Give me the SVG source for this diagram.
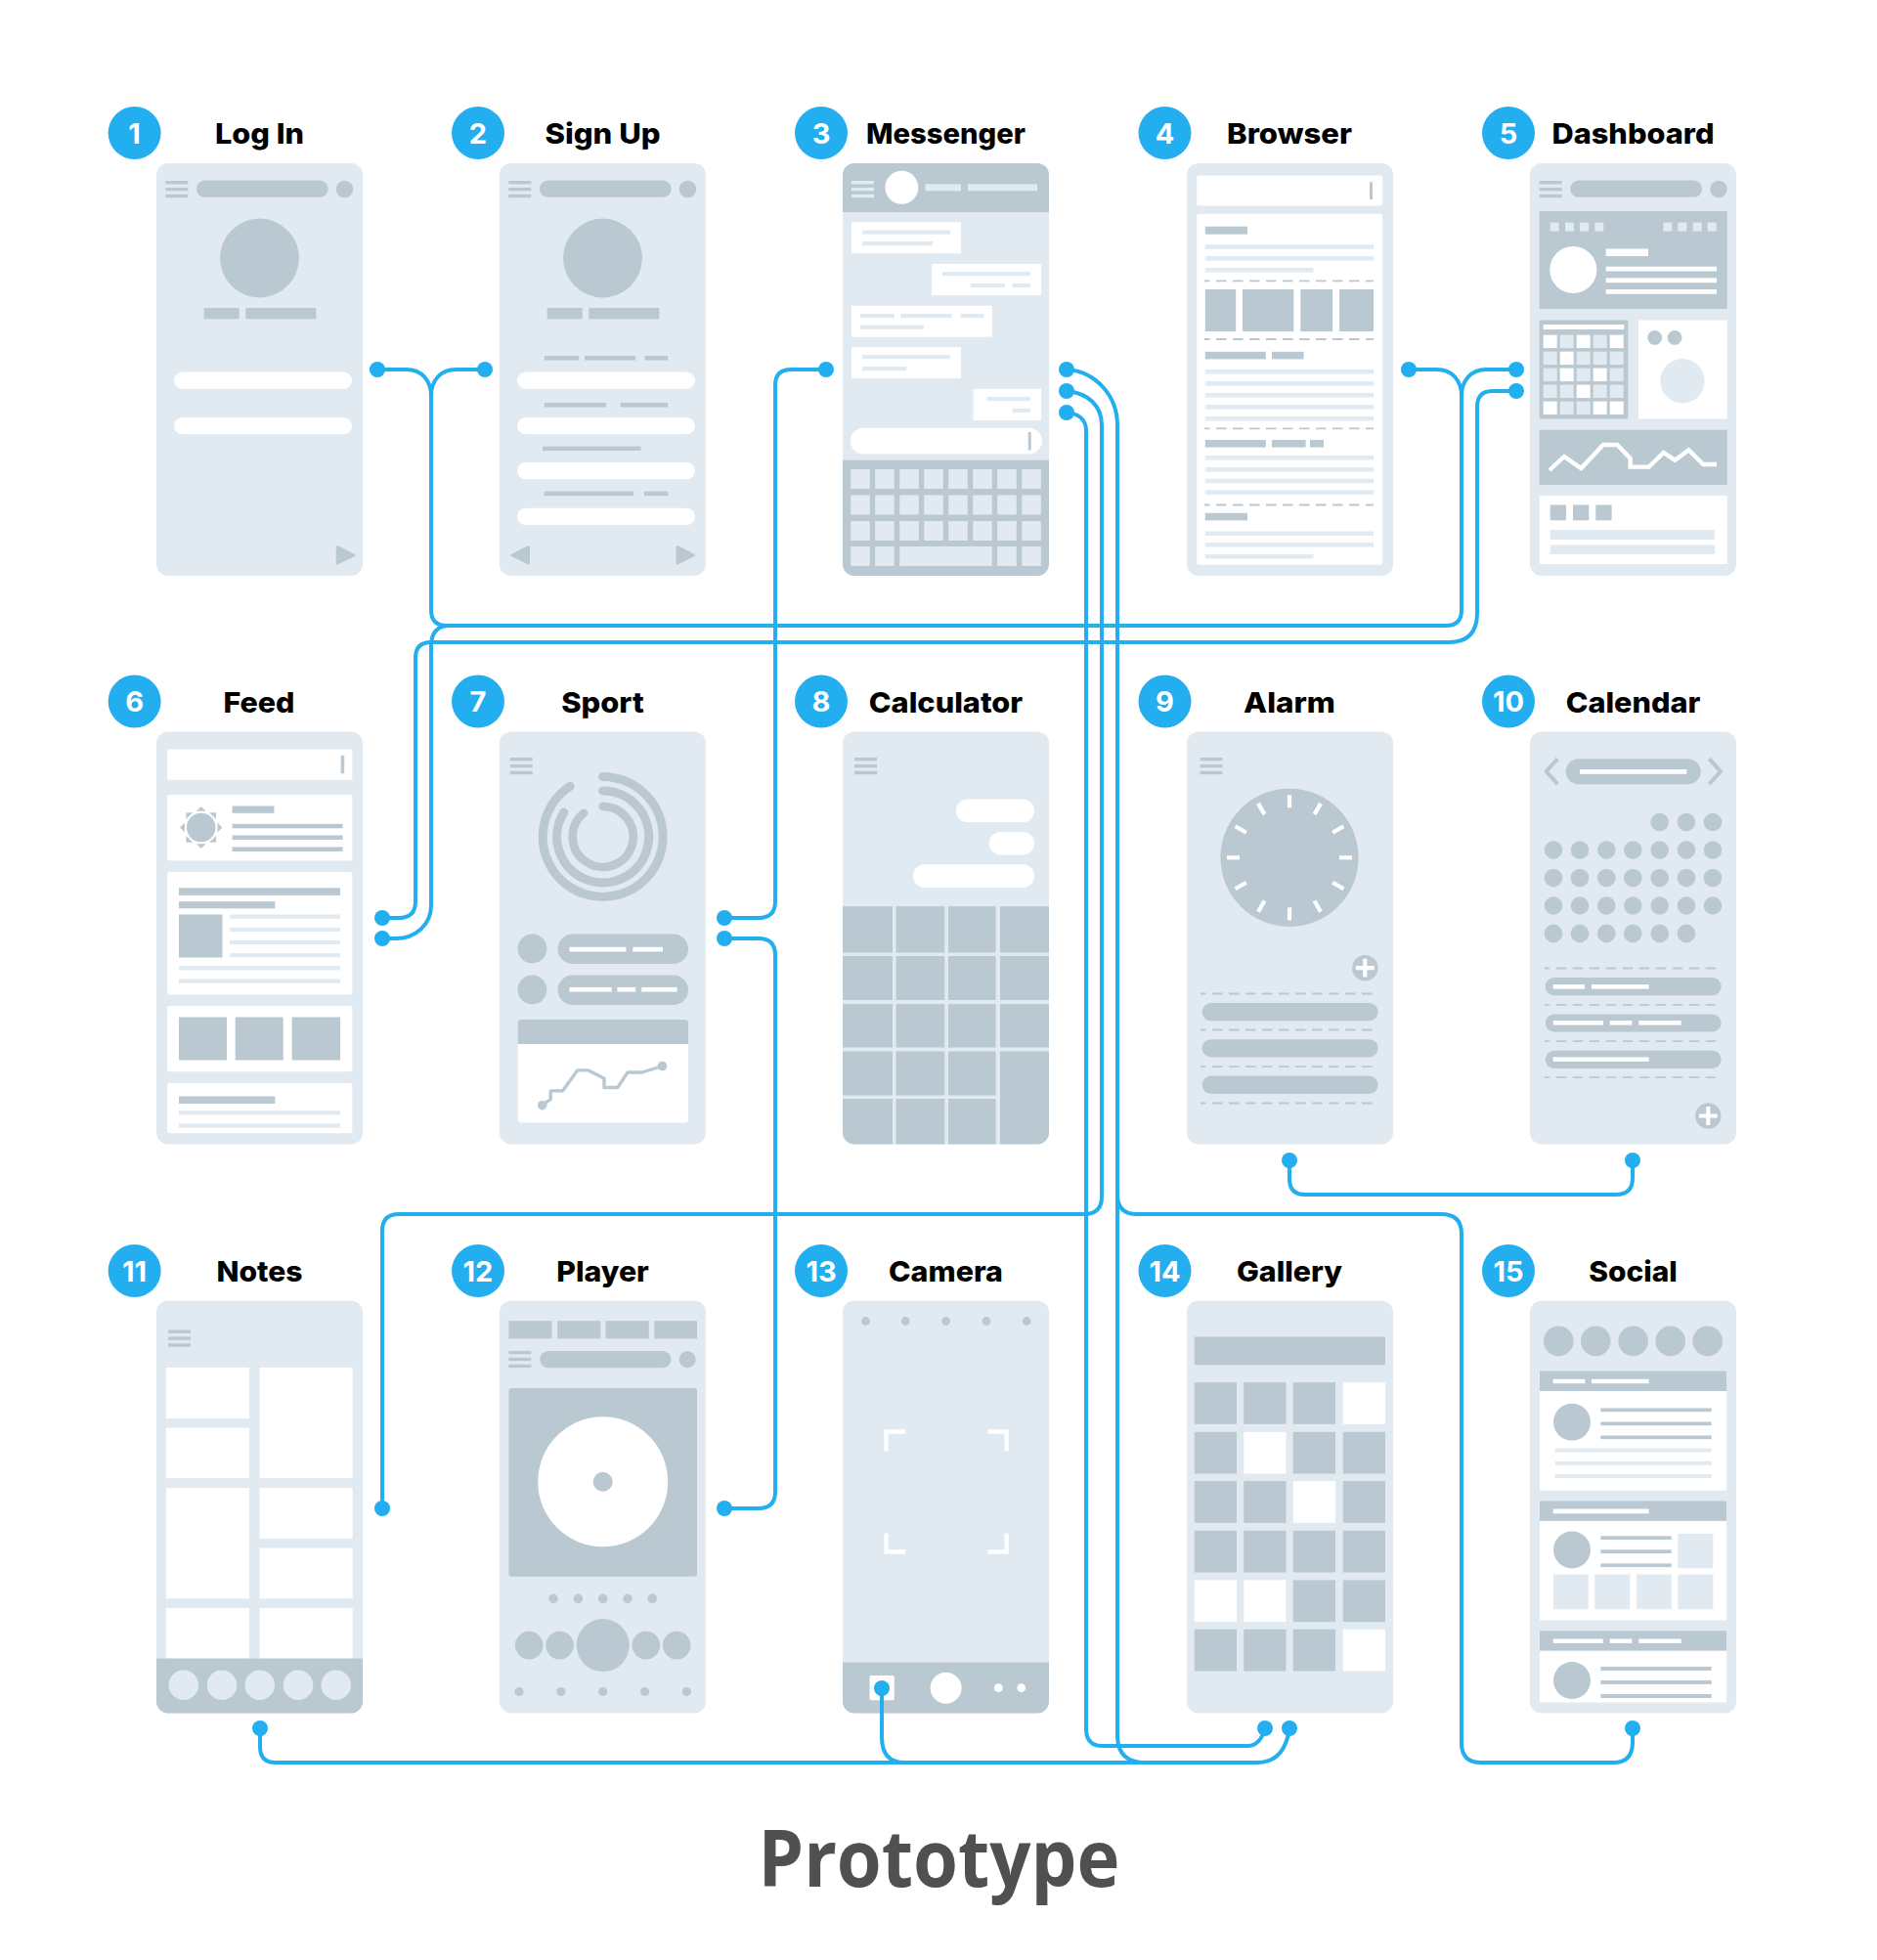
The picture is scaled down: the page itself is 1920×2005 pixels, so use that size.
<svg xmlns="http://www.w3.org/2000/svg" width="1920" height="2005" viewBox="0 0 1920 2005">
<style>
.bg{fill:#fff}
.c{fill:#E1E9F1}
.g{fill:#BAC8D2}
.w{fill:#fff}
.b{fill:#22AEEF}
.n{fill:#fff;font-family:"Inter","Liberation Sans",sans-serif;font-weight:700;font-size:29px;text-anchor:middle}
.t{fill:#000;font-family:"Inter","Liberation Sans",sans-serif;font-weight:800;font-size:29px;text-anchor:middle}
.d{stroke:#BAC8D2;stroke-width:1.8;stroke-dasharray:10.5 6.5;stroke-dashoffset:5;fill:none}
.ln{fill:none;stroke:#BAC8D2;stroke-linejoin:round}
.tri{fill:#BAC8D2;stroke:#BAC8D2;stroke-width:3;stroke-linejoin:round}
.cn{fill:none;stroke:#22AEEF;stroke-width:4}
.pl{fill:none;stroke:#fff;stroke-width:4.4}
.title{fill:#505050;font-family:"Open Sans","Noto Sans",sans-serif;font-weight:700;font-size:80px;text-anchor:middle}
</style>
<defs>
<g id="ham"><rect width="23" height="3.4"/><rect y="6.9" width="23" height="3.4"/><rect y="13.8" width="23" height="3.4"/></g>
<g id="plus"><circle class="g" r="13.2"/><path d="M-9.4 0H9.4M0-9.4V9.4" fill="none" stroke="#fff" stroke-width="4.2"/></g>
<rect id="card" class="c" width="211" height="422" rx="12"/>
</defs>
<rect class="bg" width="1920" height="2005"/>

<g id="node-1">
<circle class="b" cx="137.6" cy="136" r="27"/><text class="n" x="137.6" y="146.5">1</text>
<text class="t" x="265.5" y="147" textLength="91" lengthAdjust="spacingAndGlyphs">Log In</text>
<g transform="translate(160,167)">
<use href="#card"/>
<use href="#ham" class="g" x="9.3" y="18"/>
<rect class="g" x="41" y="17.6" width="134.7" height="17.2" rx="8.6"/>
<circle class="g" cx="192.5" cy="26.5" r="8.7"/>
<circle class="g" cx="105.5" cy="97" r="40.4"/>
<rect class="g" x="48.6" y="148" width="36" height="11.3"/><rect class="g" x="91.4" y="148" width="72" height="11.3"/>
<rect class="w" x="18" y="213.5" width="182" height="17.2" rx="8.6"/>
<rect class="w" x="18" y="260" width="182" height="17.2" rx="8.6"/>
<polygon class="tri" points="185.2,392.5 201.8,401 185.2,409"/>
</g></g>

<g id="node-2">
<circle class="b" cx="489" cy="136" r="27"/><text class="n" x="489" y="146.5">2</text>
<text class="t" x="616.5" y="147" textLength="118" lengthAdjust="spacingAndGlyphs">Sign Up</text>
<g transform="translate(511,167)">
<use href="#card"/>
<use href="#ham" class="g" x="9.3" y="18"/>
<rect class="g" x="41" y="17.6" width="134.7" height="17.2" rx="8.6"/>
<circle class="g" cx="192.5" cy="26.5" r="8.7"/>
<circle class="g" cx="105.5" cy="97" r="40.4"/>
<rect class="g" x="48.6" y="148" width="36" height="11.3"/><rect class="g" x="91.4" y="148" width="72" height="11.3"/>
<rect class="g" x="45.7" y="197" width="35.5" height="4.5"/><rect class="g" x="87" y="197" width="52.2" height="4.5"/><rect class="g" x="148.6" y="197" width="23.6" height="4.5"/>
<rect class="w" x="18" y="213.5" width="182" height="17.2" rx="8.6"/>
<rect class="g" x="45.7" y="245" width="63.3" height="4.5"/><rect class="g" x="123.7" y="245" width="48.5" height="4.5"/>
<rect class="w" x="18" y="260" width="182" height="17.2" rx="8.6"/>
<rect class="g" x="44" y="289.6" width="100.5" height="4.5"/>
<rect class="w" x="18" y="306" width="182" height="17.2" rx="8.6"/>
<rect class="g" x="45.7" y="335.7" width="91.3" height="4.5"/><rect class="g" x="148" y="335.7" width="24.2" height="4.5"/>
<rect class="w" x="18" y="352.7" width="182" height="17.2" rx="8.6"/>
<polygon class="tri" points="29.5,392.5 13,401 29.5,409"/>
<polygon class="tri" points="182,392.5 198.5,401 182,409"/>
</g></g>

<g id="node-3">
<circle class="b" cx="840" cy="136" r="27"/><text class="n" x="840" y="146.5">3</text>
<text class="t" x="967.5" y="147" textLength="163" lengthAdjust="spacingAndGlyphs">Messenger</text>
<g transform="translate(862,167)">
<use href="#card"/>
<path class="g" d="M0 50V12A12 12 0 0 1 12 0H199A12 12 0 0 1 211 12V50Z"/>
<use href="#ham" class="c" x="9" y="18"/>
<circle class="w" cx="60.4" cy="24.8" r="17"/>
<rect class="c" x="84.5" y="21.3" width="36.5" height="7"/><rect class="c" x="128" y="21.3" width="71" height="7"/>
<rect class="w" x="9" y="60.3" width="112" height="32"/>
<rect class="c" x="20" y="68.5" width="90" height="4.2"/><rect class="c" x="20" y="80" width="72" height="4.2"/>
<rect class="w" x="91" y="103" width="112" height="32"/>
<rect class="c" x="102" y="111" width="90" height="4.2"/><rect class="c" x="130.6" y="123" width="35.4" height="4.2"/><rect class="c" x="173.5" y="123" width="18.5" height="4.2"/>
<rect class="w" x="9" y="145.7" width="144" height="32"/>
<rect class="c" x="18" y="154" width="35" height="4.2"/><rect class="c" x="59" y="154" width="52.4" height="4.2"/><rect class="c" x="120.8" y="154" width="23.7" height="4.2"/><rect class="c" x="18" y="165.6" width="65" height="4.2"/>
<rect class="w" x="9" y="188" width="112" height="32"/>
<rect class="c" x="20" y="196" width="90" height="4.2"/><rect class="c" x="20" y="208" width="45.3" height="4.2"/>
<rect class="w" x="133.5" y="230.7" width="69.5" height="32.3"/>
<rect class="c" x="147.3" y="239" width="44.7" height="4.2"/><rect class="c" x="173.5" y="250.7" width="18.5" height="4.2"/>
<rect class="w" x="7.8" y="270.7" width="196.2" height="26.8" rx="13.4"/>
<rect class="g" x="189.8" y="275" width="2.9" height="18.5"/>
<path class="g" d="M0 303.7H211V410A12 12 0 0 1 199 422H12A12 12 0 0 1 0 410Z"/>
<g class="c">
<rect x="8.2" y="313" width="19.6" height="20"/><rect x="33.2" y="313" width="19.6" height="20"/><rect x="58.2" y="313" width="19.6" height="20"/><rect x="83.2" y="313" width="19.6" height="20"/><rect x="108.2" y="313" width="19.6" height="20"/><rect x="133.2" y="313" width="19.6" height="20"/><rect x="158.2" y="313" width="19.6" height="20"/><rect x="183.2" y="313" width="19.6" height="20"/>
<rect x="8.2" y="339.5" width="19.6" height="20"/><rect x="33.2" y="339.5" width="19.6" height="20"/><rect x="58.2" y="339.5" width="19.6" height="20"/><rect x="83.2" y="339.5" width="19.6" height="20"/><rect x="108.2" y="339.5" width="19.6" height="20"/><rect x="133.2" y="339.5" width="19.6" height="20"/><rect x="158.2" y="339.5" width="19.6" height="20"/><rect x="183.2" y="339.5" width="19.6" height="20"/>
<rect x="8.2" y="366" width="19.6" height="20"/><rect x="33.2" y="366" width="19.6" height="20"/><rect x="58.2" y="366" width="19.6" height="20"/><rect x="83.2" y="366" width="19.6" height="20"/><rect x="108.2" y="366" width="19.6" height="20"/><rect x="133.2" y="366" width="19.6" height="20"/><rect x="158.2" y="366" width="19.6" height="20"/><rect x="183.2" y="366" width="19.6" height="20"/>
<rect x="8.2" y="392" width="19.6" height="20"/><rect x="33.2" y="392" width="19.6" height="20"/><rect x="58.2" y="392" width="94.6" height="20"/><rect x="158.2" y="392" width="19.6" height="20"/><rect x="183.2" y="392" width="19.6" height="20"/>
</g>
</g></g>

<g id="node-4">
<circle class="b" cx="1191.5" cy="136" r="27"/><text class="n" x="1191.5" y="146.5">4</text>
<text class="t" x="1319" y="147" textLength="128" lengthAdjust="spacingAndGlyphs">Browser</text>
<g transform="translate(1214,167)">
<use href="#card"/>
<rect class="w" x="10.2" y="12.4" width="189.8" height="31" rx="2"/>
<rect class="g" x="187" y="19.3" width="3" height="17.7"/>
<rect class="w" x="10.2" y="51.7" width="189.8" height="359" rx="2"/>
<rect class="g" x="18.8" y="64.7" width="43.2" height="8"/>
<g class="c">
<rect x="18.8" y="83.3" width="172.2" height="4.5"/><rect x="18.8" y="95" width="172.2" height="4.5"/><rect x="18.8" y="107" width="110.6" height="4.5"/>
<rect x="18.8" y="211" width="172.2" height="4.5"/><rect x="18.8" y="223" width="172.2" height="4.5"/><rect x="18.8" y="235" width="172.2" height="4.5"/><rect x="18.8" y="247" width="172.2" height="4.5"/><rect x="18.8" y="259" width="172.2" height="4.5"/>
<rect x="18.8" y="299" width="172.2" height="4.5"/><rect x="18.8" y="311" width="172.2" height="4.5"/><rect x="18.8" y="322.7" width="172.2" height="4.5"/><rect x="18.8" y="334.4" width="172.2" height="4.5"/>
<rect x="18.8" y="376.5" width="172.2" height="4.5"/><rect x="18.8" y="388" width="172.2" height="4.5"/><rect x="18.8" y="400" width="110.6" height="4.5"/>
</g>
<path class="d" d="M18 120.3H191M18 180H191M18 271.3H191M18 349.5H191"/>
<rect class="g" x="18.8" y="129" width="31.4" height="43"/><rect class="g" x="57" y="129" width="52.4" height="43"/><rect class="g" x="116.3" y="129" width="32.7" height="43"/><rect class="g" x="156" y="129" width="35" height="43"/>
<rect class="g" x="18.8" y="192.8" width="62" height="7.6"/><rect class="g" x="87" y="192.8" width="32.6" height="7.6"/>
<rect class="g" x="18.8" y="283" width="62" height="7.6"/><rect class="g" x="87" y="283" width="34.6" height="7.6"/><rect class="g" x="126" y="283" width="14" height="7.6"/>
<rect class="g" x="18.8" y="357.8" width="43.2" height="7.6"/>
</g></g>

<g id="node-5">
<circle class="b" cx="1543" cy="136" r="27"/><text class="n" x="1543" y="146.5">5</text>
<text class="t" x="1670.5" y="147" textLength="166" lengthAdjust="spacingAndGlyphs">Dashboard</text>
<g transform="translate(1565,167)">
<use href="#card"/>
<use href="#ham" class="g" x="9.7" y="18"/>
<rect class="g" x="41.3" y="17.6" width="134.7" height="17.2" rx="8.6"/>
<circle class="g" cx="193" cy="26.5" r="8.7"/>
<rect class="g" x="9.7" y="49" width="192" height="100"/>
<g class="c">
<rect x="20.7" y="60.6" width="9" height="9"/><rect x="36" y="60.6" width="9" height="9"/><rect x="51" y="60.6" width="9" height="9"/><rect x="66.3" y="60.6" width="9" height="9"/>
<rect x="136.3" y="60.6" width="9" height="9"/><rect x="151.3" y="60.6" width="9" height="9"/><rect x="166.7" y="60.6" width="9" height="9"/><rect x="181.7" y="60.6" width="9" height="9"/>
</g>
<circle class="w" cx="44.3" cy="109" r="24"/>
<rect class="w" x="77.7" y="87.5" width="43.3" height="7.5"/><rect class="w" x="77.7" y="105.7" width="113.3" height="4.8"/><rect class="w" x="77.7" y="117.4" width="113.3" height="4.8"/><rect class="w" x="77.7" y="129" width="113.3" height="4.8"/>
<rect class="g" x="9.7" y="160.5" width="90.6" height="101"/>
<rect class="w" x="13.7" y="165" width="82.6" height="5"/>
<g class="w">
<rect x="13.7" y="175.6" width="14" height="13.5"/><rect x="47.7" y="175.6" width="14" height="13.5"/><rect x="81.7" y="175.6" width="14" height="13.5"/>
<rect x="30.7" y="192.6" width="14" height="13.5"/>
<rect x="30.7" y="209.6" width="14" height="13.5"/><rect x="64.7" y="209.6" width="14" height="13.5"/>
<rect x="47.7" y="226.6" width="14" height="13.5"/>
<rect x="13.7" y="243.6" width="14" height="13.5"/><rect x="64.7" y="243.6" width="14" height="13.5"/><rect x="81.7" y="243.6" width="14" height="13.5"/>
</g>
<g class="c">
<rect x="30.7" y="175.6" width="14" height="13.5"/><rect x="64.7" y="175.6" width="14" height="13.5"/>
<rect x="13.7" y="192.6" width="14" height="13.5"/><rect x="47.7" y="192.6" width="14" height="13.5"/><rect x="64.7" y="192.6" width="14" height="13.5"/><rect x="81.7" y="192.6" width="14" height="13.5"/>
<rect x="13.7" y="209.6" width="14" height="13.5"/><rect x="47.7" y="209.6" width="14" height="13.5"/><rect x="81.7" y="209.6" width="14" height="13.5"/>
<rect x="13.7" y="226.6" width="14" height="13.5"/><rect x="30.7" y="226.6" width="14" height="13.5"/><rect x="64.7" y="226.6" width="14" height="13.5"/><rect x="81.7" y="226.6" width="14" height="13.5"/>
<rect x="30.7" y="243.6" width="14" height="13.5"/><rect x="47.7" y="243.6" width="14" height="13.5"/>
</g>
<rect class="w" x="111" y="160.5" width="90.7" height="101"/>
<circle class="g" cx="127.7" cy="178.4" r="7.4"/><circle class="g" cx="148" cy="178.4" r="7.4"/>
<circle class="c" cx="156" cy="222.8" r="22.7"/>
<rect class="g" x="9.7" y="272.7" width="192" height="56.3"/>
<polyline class="pl" points="20,314 35,300 52.3,312 75,288 89.3,288 102.7,302 102.7,310.6 121.7,310.6 136.7,296 148.3,303.7 162.3,293.4 177.3,308 191,308"/>
<rect class="w" x="9.7" y="340" width="192" height="70"/>
<rect class="g" x="20.7" y="349.5" width="16.3" height="15.8"/><rect class="g" x="44" y="349.5" width="16.3" height="15.8"/><rect class="g" x="67.3" y="349.5" width="16.3" height="15.8"/>
<rect class="c" x="20.7" y="375" width="168.3" height="10"/><rect class="c" x="20.7" y="390.5" width="168.3" height="9.5"/>
</g></g>

<g id="node-6">
<circle class="b" cx="137.6" cy="717.5" r="27"/><text class="n" x="137.6" y="728">6</text>
<text class="t" x="265" y="729" textLength="73" lengthAdjust="spacingAndGlyphs">Feed</text>
<g transform="translate(160,748.5)">
<use href="#card"/>
<rect class="w" x="11" y="18" width="189.4" height="31.2" rx="2"/>
<rect class="g" x="188.6" y="24.4" width="3.6" height="18.3"/>
<rect class="w" x="11" y="64.4" width="189.4" height="67.6" rx="3"/>
<g class="g" transform="translate(45.7,98)">
<circle r="14.8"/>
<polygon points="0,-21.6 -4.9,-16.8 4.9,-16.8"/><polygon points="0,-21.6 -4.9,-16.8 4.9,-16.8" transform="rotate(45)"/><polygon points="0,-21.6 -4.9,-16.8 4.9,-16.8" transform="rotate(90)"/><polygon points="0,-21.6 -4.9,-16.8 4.9,-16.8" transform="rotate(135)"/><polygon points="0,-21.6 -4.9,-16.8 4.9,-16.8" transform="rotate(180)"/><polygon points="0,-21.6 -4.9,-16.8 4.9,-16.8" transform="rotate(225)"/><polygon points="0,-21.6 -4.9,-16.8 4.9,-16.8" transform="rotate(270)"/><polygon points="0,-21.6 -4.9,-16.8 4.9,-16.8" transform="rotate(315)"/>
</g>
<rect class="g" x="77.6" y="76" width="42.8" height="7.3"/>
<rect class="g" x="77.6" y="94.3" width="113" height="4.5"/><rect class="g" x="77.6" y="106" width="113" height="4.5"/><rect class="g" x="77.6" y="118" width="113" height="4.5"/>
<rect class="w" x="11" y="143.6" width="189.4" height="125.4" rx="3"/>
<rect class="g" x="23" y="159.8" width="165" height="7.6"/><rect class="g" x="23" y="173.6" width="98.3" height="7.2"/>
<rect class="g" x="23" y="187" width="44.5" height="44"/>
<g class="c">
<rect x="75" y="187" width="113" height="4.2"/><rect x="75" y="200.4" width="113" height="4.2"/><rect x="75" y="213.5" width="113" height="4.2"/><rect x="75" y="226.6" width="113" height="4.2"/>
<rect x="23" y="239.7" width="165" height="4.2"/><rect x="23" y="253" width="165" height="4.2"/>
</g>
<rect class="w" x="11" y="280.6" width="189.4" height="67.2" rx="3"/>
<rect class="g" x="23" y="292" width="49" height="44"/><rect class="g" x="80.7" y="292" width="49" height="44"/><rect class="g" x="138.7" y="292" width="49.4" height="44"/>
<rect class="w" x="11" y="359.5" width="189.4" height="51.3" rx="3"/>
<rect class="g" x="23" y="373" width="98.3" height="7.5"/>
<rect class="c" x="23" y="387.7" width="165" height="4.2"/><rect class="c" x="23" y="400.8" width="165" height="4.2"/>
</g></g>

<g id="node-7">
<circle class="b" cx="489" cy="717.5" r="27"/><text class="n" x="489" y="728">7</text>
<text class="t" x="616.5" y="729" textLength="84.5" lengthAdjust="spacingAndGlyphs">Sport</text>
<g transform="translate(511,748.5)">
<use href="#card"/>
<use href="#ham" class="g" x="10.7" y="26.5"/>
<g fill="none" stroke="#BAC8D2" stroke-linecap="round">
<path stroke-width="9" d="M105.7 45.9A61.5 61.5 0 1 1 72.2 55.8"/>
<path stroke-width="9" d="M105.7 60.4A47 47 0 1 1 65.8 82.5"/>
<path stroke-width="8.5" d="M105.7 76.4A31 31 0 1 1 86.2 83.3"/>
</g>
<circle class="g" cx="33.4" cy="222" r="15"/><circle class="g" cx="33.4" cy="264" r="15"/>
<rect class="g" x="59.6" y="207" width="133.4" height="30.6" rx="15.3"/><rect class="g" x="59.6" y="249" width="133.4" height="30.6" rx="15.3"/>
<rect class="w" x="71.4" y="220.3" width="58" height="4.7"/><rect class="w" x="136.3" y="220.3" width="30.7" height="4.7"/>
<rect class="w" x="71.4" y="261.4" width="43.3" height="4.7"/><rect class="w" x="120.4" y="261.4" width="18.8" height="4.7"/><rect class="w" x="145.3" y="261.4" width="36.3" height="4.7"/>
<path class="g" d="M18.8 319.6V298A3.6 3.6 0 0 1 22.4 294.4H189.4A3.6 3.6 0 0 1 193 298V319.6Z"/>
<path class="w" d="M18.8 319.6H193V396.4A3.6 3.6 0 0 1 189.4 400H22.4A3.6 3.6 0 0 1 18.8 396.4Z"/>
<polyline class="ln" stroke-width="3.4" points="43.7,382.2 52.2,376 52.2,367.4 64.5,367.4 79.6,346.4 91,346.4 107,354.7 107,364 120.8,364 131,348.5 145.7,348.5 166.5,342"/>
<circle class="g" cx="43.7" cy="382.2" r="4.8"/><circle class="g" cx="166.5" cy="342" r="4.8"/>
</g></g>

<g id="node-8">
<circle class="b" cx="840" cy="717.5" r="27"/><text class="n" x="840" y="728">8</text>
<text class="t" x="967.5" y="729" textLength="157.5" lengthAdjust="spacingAndGlyphs">Calculator</text>
<g transform="translate(862,748.5)">
<use href="#card"/>
<use href="#ham" class="g" x="12" y="26.5"/>
<rect class="w" x="116" y="69" width="80" height="23.6" rx="11.8"/>
<rect class="w" x="149.7" y="102.6" width="46.3" height="23.4" rx="11.7"/>
<rect class="w" x="72" y="135.7" width="124" height="23.7" rx="11.8"/>
<g class="g">
<rect y="178.7" width="51" height="47.3"/><rect x="54.6" y="178.7" width="49.6" height="47.3"/><rect x="108" y="178.7" width="48.6" height="47.3"/><rect x="161" y="178.7" width="50" height="47.3"/>
<rect y="229.5" width="51" height="45"/><rect x="54.6" y="229.5" width="49.6" height="45"/><rect x="108" y="229.5" width="48.6" height="45"/><rect x="161" y="229.5" width="50" height="45"/>
<rect y="278.6" width="51" height="44.4"/><rect x="54.6" y="278.6" width="49.6" height="44.4"/><rect x="108" y="278.6" width="48.6" height="44.4"/><rect x="161" y="278.6" width="50" height="44.4"/>
<rect y="327" width="51" height="45"/><rect x="54.6" y="327" width="49.6" height="45"/><rect x="108" y="327" width="48.6" height="45"/>
<path d="M161 327H211V410A12 12 0 0 1 199 422H161Z"/>
<path d="M0 375.5H51V422H12A12 12 0 0 1 0 410Z"/>
<rect x="54.6" y="375.5" width="49.6" height="46.5"/><rect x="108" y="375.5" width="48.6" height="46.5"/>
</g>
</g></g>

<g id="node-9">
<circle class="b" cx="1191.5" cy="717.5" r="27"/><text class="n" x="1191.5" y="728">9</text>
<text class="t" x="1319" y="729" textLength="94" lengthAdjust="spacingAndGlyphs">Alarm</text>
<g transform="translate(1214,748.5)">
<use href="#card"/>
<use href="#ham" class="g" x="13.5" y="26.5"/>
<circle class="g" cx="105" cy="128.8" r="70.6"/>
<g stroke="#fff" stroke-width="4.2">
<path d="M105 64.8V77.8"/><path d="M105 64.8V77.8" transform="rotate(30 105 128.8)"/><path d="M105 64.8V77.8" transform="rotate(60 105 128.8)"/><path d="M105 64.8V77.8" transform="rotate(90 105 128.8)"/><path d="M105 64.8V77.8" transform="rotate(120 105 128.8)"/><path d="M105 64.8V77.8" transform="rotate(150 105 128.8)"/><path d="M105 64.8V77.8" transform="rotate(180 105 128.8)"/><path d="M105 64.8V77.8" transform="rotate(210 105 128.8)"/><path d="M105 64.8V77.8" transform="rotate(240 105 128.8)"/><path d="M105 64.8V77.8" transform="rotate(270 105 128.8)"/><path d="M105 64.8V77.8" transform="rotate(300 105 128.8)"/><path d="M105 64.8V77.8" transform="rotate(330 105 128.8)"/>
</g>
<use href="#plus" x="182.3" y="241.7"/>
<path class="d" d="M14 268H196M14 305H196M14 342.6H196M14 380H196"/>
<rect class="g" x="15.6" y="277.5" width="180" height="18.3" rx="9.1"/><rect class="g" x="15.6" y="314.7" width="180" height="18.3" rx="9.1"/><rect class="g" x="15.6" y="352" width="180" height="18.5" rx="9.2"/>
</g></g>

<g id="node-10">
<circle class="b" cx="1543" cy="717.5" r="27"/><text class="n" x="1543" y="728">10</text>
<text class="t" x="1670.5" y="729" textLength="137.7" lengthAdjust="spacingAndGlyphs">Calendar</text>
<g transform="translate(1565,748.5)">
<use href="#card"/>
<path class="ln" stroke-width="4" d="M28.3 27.7L16.7 40.7L28.3 53.7M183.3 27.7L195 40.7L183.3 53.7"/>
<rect class="g" x="36.7" y="27.7" width="138" height="26" rx="13"/>
<rect class="w" x="51" y="38.5" width="109.3" height="4.8"/>
<g class="g">
<circle cx="132.7" cy="92.5" r="9.3"/><circle cx="160" cy="92.5" r="9.3"/><circle cx="187" cy="92.5" r="9.3"/>
<circle cx="24" cy="121" r="9.3"/><circle cx="51" cy="121" r="9.3"/><circle cx="78.3" cy="121" r="9.3"/><circle cx="105.3" cy="121" r="9.3"/><circle cx="132.7" cy="121" r="9.3"/><circle cx="160" cy="121" r="9.3"/><circle cx="187" cy="121" r="9.3"/>
<circle cx="24" cy="149.5" r="9.3"/><circle cx="51" cy="149.5" r="9.3"/><circle cx="78.3" cy="149.5" r="9.3"/><circle cx="105.3" cy="149.5" r="9.3"/><circle cx="132.7" cy="149.5" r="9.3"/><circle cx="160" cy="149.5" r="9.3"/><circle cx="187" cy="149.5" r="9.3"/>
<circle cx="24" cy="178" r="9.3"/><circle cx="51" cy="178" r="9.3"/><circle cx="78.3" cy="178" r="9.3"/><circle cx="105.3" cy="178" r="9.3"/><circle cx="132.7" cy="178" r="9.3"/><circle cx="160" cy="178" r="9.3"/><circle cx="187" cy="178" r="9.3"/>
<circle cx="24" cy="206.4" r="9.3"/><circle cx="51" cy="206.4" r="9.3"/><circle cx="78.3" cy="206.4" r="9.3"/><circle cx="105.3" cy="206.4" r="9.3"/><circle cx="132.7" cy="206.4" r="9.3"/><circle cx="160" cy="206.4" r="9.3"/>
</g>
<path class="d" d="M14.7 242H196.7M14.7 279.3H196.7M14.7 316.7H196.7M14.7 353.7H196.7"/>
<rect class="g" x="15.7" y="251.6" width="180" height="18.1" rx="9"/><rect class="g" x="15.7" y="289" width="180" height="18" rx="9"/><rect class="g" x="15.7" y="326.3" width="180" height="18.2" rx="9"/>
<rect class="w" x="23.7" y="258.6" width="32.3" height="4.5"/><rect class="w" x="63" y="258.6" width="58.7" height="4.5"/>
<rect class="w" x="23.7" y="295.6" width="51.3" height="4.5"/><rect class="w" x="81.7" y="295.6" width="22.6" height="4.5"/><rect class="w" x="111.3" y="295.6" width="43.4" height="4.5"/>
<rect class="w" x="23.7" y="332.9" width="98" height="4.5"/>
<use href="#plus" x="182.3" y="393"/>
</g></g>

<g id="node-11">
<circle class="b" cx="137.6" cy="1300" r="27"/><text class="n" x="137.6" y="1310.5">11</text>
<text class="t" x="265.5" y="1311" textLength="88" lengthAdjust="spacingAndGlyphs">Notes</text>
<g transform="translate(160,1330.5)">
<use href="#card"/>
<use href="#ham" class="g" x="12" y="30"/>
<g class="w">
<rect x="10" y="68.4" width="85" height="52.2"/><rect x="10" y="130" width="85" height="51.6"/><rect x="10" y="191.6" width="85" height="113.2"/><rect x="10" y="314.5" width="85" height="52"/>
<rect x="105.5" y="68.4" width="95.2" height="113.2"/><rect x="105.5" y="191.6" width="95.2" height="51.8"/><rect x="105.5" y="253" width="95.2" height="51.8"/><rect x="105.5" y="314.5" width="95.2" height="52"/>
</g>
<path class="g" d="M0 366H211V410A12 12 0 0 1 199 422H12A12 12 0 0 1 0 410Z"/>
<g class="c"><circle cx="27.8" cy="393.3" r="15.3"/><circle cx="67" cy="393.3" r="15.3"/><circle cx="105.7" cy="393.3" r="15.3"/><circle cx="145" cy="393.3" r="15.3"/><circle cx="183.7" cy="393.3" r="15.3"/></g>
</g></g>

<g id="node-12">
<circle class="b" cx="489" cy="1300" r="27"/><text class="n" x="489" y="1310.5">12</text>
<text class="t" x="616.5" y="1311" textLength="94.7" lengthAdjust="spacingAndGlyphs">Player</text>
<g transform="translate(511,1330.5)">
<use href="#card"/>
<rect class="g" x="9.4" y="20.7" width="44.1" height="18.1"/><rect class="g" x="59.2" y="20.7" width="44.1" height="18.1"/><rect class="g" x="108.6" y="20.7" width="44.1" height="18.1"/><rect class="g" x="158.4" y="20.7" width="43.6" height="18.1"/>
<use href="#ham" class="g" x="9.4" y="51.4"/>
<rect class="g" x="41.2" y="51.4" width="134.3" height="17.4" rx="8.7"/>
<circle class="g" cx="192.2" cy="60.3" r="8.5"/>
<rect class="g" x="9.4" y="89.5" width="192.6" height="192.8" rx="3"/>
<circle class="w" cx="105.7" cy="185.3" r="66.5"/><circle class="g" cx="105.7" cy="185.3" r="10"/>
<g class="g">
<circle cx="55" cy="304.8" r="4.8"/><circle cx="80.4" cy="304.8" r="4.8"/><circle cx="105.7" cy="304.8" r="4.8"/><circle cx="131" cy="304.8" r="4.8"/><circle cx="156.3" cy="304.8" r="4.8"/>
<circle cx="30.2" cy="352.6" r="14.3"/><circle cx="61.6" cy="352.6" r="14.3"/><circle cx="105.7" cy="352.6" r="27"/><circle cx="149.8" cy="352.6" r="14.3"/><circle cx="181.2" cy="352.6" r="14.3"/>
<circle cx="20" cy="400" r="4.6"/><circle cx="62.9" cy="400" r="4.6"/><circle cx="105.7" cy="400" r="4.6"/><circle cx="148.6" cy="400" r="4.6"/><circle cx="191.4" cy="400" r="4.6"/>
</g>
</g></g>

<g id="node-13">
<circle class="b" cx="840" cy="1300" r="27"/><text class="n" x="840" y="1310.5">13</text>
<text class="t" x="967.5" y="1311" textLength="117" lengthAdjust="spacingAndGlyphs">Camera</text>
<g transform="translate(862,1330.5)">
<use href="#card"/>
<g class="g"><circle cx="23.4" cy="21" r="4.4"/><circle cx="64.3" cy="21" r="4.4"/><circle cx="105.6" cy="21" r="4.4"/><circle cx="147" cy="21" r="4.4"/><circle cx="188.2" cy="21" r="4.4"/></g>
<path class="pl" d="M44.5 154V134H64M148.3 134H167.6V154M44.5 238V257H64M167.6 238V257H148.3"/>
<path class="g" d="M0 370H211V410A12 12 0 0 1 199 422H12A12 12 0 0 1 0 410Z"/>
<rect class="w" x="27.5" y="383.6" width="25.3" height="25.2" rx="2"/>
<circle class="w" cx="105.6" cy="396.2" r="16"/>
<circle class="w" cx="159.3" cy="396.2" r="4.4"/><circle class="w" cx="182.7" cy="396.2" r="4.4"/>
</g></g>

<g id="node-14">
<circle class="b" cx="1191.5" cy="1300" r="27"/><text class="n" x="1191.5" y="1310.5">14</text>
<text class="t" x="1319" y="1311" textLength="108" lengthAdjust="spacingAndGlyphs">Gallery</text>
<g transform="translate(1214,1330.5)">
<use href="#card"/>
<rect class="g" x="7.8" y="37" width="195.2" height="28.8"/>
<g class="g">
<rect x="7.8" y="83.6" width="43.2" height="42.7"/><rect x="58.3" y="83.6" width="43.2" height="42.7"/><rect x="108.8" y="83.6" width="43.2" height="42.7"/>
<rect x="7.8" y="134.3" width="43.2" height="42.7"/><rect x="108.8" y="134.3" width="43.2" height="42.7"/><rect x="159.8" y="134.3" width="43.2" height="42.7"/>
<rect x="7.8" y="184.6" width="43.2" height="42.7"/><rect x="58.3" y="184.6" width="43.2" height="42.7"/><rect x="159.8" y="184.6" width="43.2" height="42.7"/>
<rect x="7.8" y="235.3" width="43.2" height="42.7"/><rect x="58.3" y="235.3" width="43.2" height="42.7"/><rect x="108.8" y="235.3" width="43.2" height="42.7"/><rect x="159.8" y="235.3" width="43.2" height="42.7"/>
<rect x="108.8" y="285.9" width="43.2" height="42.7"/><rect x="159.8" y="285.9" width="43.2" height="42.7"/>
<rect x="7.8" y="336.3" width="43.2" height="42.7"/><rect x="58.3" y="336.3" width="43.2" height="42.7"/><rect x="108.8" y="336.3" width="43.2" height="42.7"/>
</g>
<g class="w">
<rect x="159.8" y="83.6" width="43.2" height="42.7"/><rect x="58.3" y="134.3" width="43.2" height="42.7"/><rect x="108.8" y="184.6" width="43.2" height="42.7"/>
<rect x="7.8" y="285.9" width="43.2" height="42.7"/><rect x="58.3" y="285.9" width="43.2" height="42.7"/><rect x="159.8" y="336.3" width="43.2" height="42.7"/>
</g>
</g></g>

<g id="node-15">
<circle class="b" cx="1543" cy="1300" r="27"/><text class="n" x="1543" y="1310.5">15</text>
<text class="t" x="1670.5" y="1311" textLength="90.7" lengthAdjust="spacingAndGlyphs">Social</text>
<g transform="translate(1565,1330.5)">
<use href="#card"/>
<g class="g"><circle cx="29.3" cy="41.4" r="15.3"/><circle cx="67.3" cy="41.4" r="15.3"/><circle cx="105.7" cy="41.4" r="15.3"/><circle cx="143.7" cy="41.4" r="15.3"/><circle cx="181.7" cy="41.4" r="15.3"/></g>
<rect class="w" x="10" y="92.5" width="191" height="101.7"/>
<rect class="g" x="10" y="72" width="191" height="20.5"/>
<rect class="w" x="23.7" y="80.3" width="32.6" height="4.4"/><rect class="w" x="63" y="80.3" width="58.7" height="4.4"/>
<circle class="g" cx="43" cy="124.3" r="19"/>
<rect class="g" x="72.3" y="110" width="113.4" height="3.7"/><rect class="g" x="72.3" y="124" width="113.4" height="3.7"/><rect class="g" x="72.3" y="138" width="113.4" height="3.7"/>
<rect class="c" x="25.7" y="151" width="160" height="4"/><rect class="c" x="25.7" y="164.3" width="160" height="4"/><rect class="c" x="25.7" y="177.6" width="160" height="4"/>
<rect class="w" x="10" y="225.3" width="191" height="101.7"/>
<rect class="g" x="10" y="205" width="191" height="20.3"/>
<rect class="w" x="23.7" y="213" width="98" height="4.8"/>
<circle class="g" cx="43" cy="255" r="19"/>
<rect class="g" x="72.3" y="240.8" width="72.4" height="3.7"/><rect class="g" x="72.3" y="254.8" width="72.4" height="3.7"/><rect class="g" x="72.3" y="268.9" width="72.4" height="3.7"/>
<rect class="c" x="151.3" y="238.3" width="36" height="35.5"/>
<rect class="c" x="24" y="280" width="35.7" height="35.6"/><rect class="c" x="66.3" y="280" width="36" height="35.6"/><rect class="c" x="109" y="280" width="35.7" height="35.6"/><rect class="c" x="151.3" y="280" width="36" height="35.6"/>
<rect class="w" x="10" y="358" width="191" height="53"/>
<rect class="g" x="10" y="337.8" width="191" height="20.2"/>
<rect class="w" x="23.7" y="346" width="51" height="4.4"/><rect class="w" x="81.7" y="346" width="22.6" height="4.4"/><rect class="w" x="111.3" y="346" width="43.4" height="4.4"/>
<circle class="g" cx="43" cy="388.5" r="19"/>
<rect class="g" x="72.3" y="374.4" width="113.4" height="4"/><rect class="g" x="72.3" y="388.4" width="113.4" height="4"/><rect class="g" x="72.3" y="402.5" width="113.4" height="4"/>
</g></g>

<g id="connectors">
<path class="cn" d="M378 378H416C431 378 441 389 441 405V624Q441 640 457 640H1479Q1495 640 1495 624V405C1495 389 1505 378 1520 378H1551"/>
<path class="cn" d="M496 378H466C451 378 441 389 441 405"/>
<path class="cn" d="M1441 378H1470C1485 378 1495 389 1495 405"/>
<path class="cn" d="M457 640Q441 642 441 661V926C441 946 425 960 405 960H391"/>
<path class="cn" d="M1551 400H1527Q1511 400 1511 416V627Q1511 657 1482 657H441Q425 657 425 673V922Q425 939 408 939H391"/>
<path class="cn" d="M845 378H809Q793 378 793 394V922Q793 939 776 939H741"/>
<path class="cn" d="M741 960H776Q793 960 793 977V1526Q793 1543 776 1543H741"/>
<path class="cn" d="M1091 422C1104 423 1111 430 1111 440V1769Q1111 1786 1128 1786H1276Q1289 1786 1294 1768"/>
<path class="cn" d="M1091 400C1113 402 1127 415 1127 435V1224Q1127 1242 1109 1242H408Q391 1242 391 1259V1543"/>
<path class="cn" d="M1091 378C1121 380 1143 405 1143 435V1775Q1143 1803 1171 1803H1286Q1314 1803 1319 1768"/>
<path class="cn" d="M1143 1222Q1143 1242 1163 1242H1474Q1495 1242 1495 1262V1783Q1495 1803 1515 1803H1651Q1670 1803 1670 1782V1768"/>
<path class="cn" d="M266 1768V1787Q266 1803 282 1803H1286"/>
<path class="cn" d="M902 1727V1777Q902 1803 925 1803"/>
<path class="cn" d="M1319 1187V1206Q1319 1222 1335 1222H1653Q1670 1222 1670 1205V1187"/>
<g class="b">
<circle cx="386" cy="378" r="8"/><circle cx="496" cy="378" r="8"/><circle cx="845" cy="378" r="8"/>
<circle cx="1091" cy="378" r="8"/><circle cx="1091" cy="400" r="8"/><circle cx="1091" cy="422" r="8"/>
<circle cx="1441" cy="378" r="8"/><circle cx="1551" cy="378" r="8"/><circle cx="1551" cy="400" r="8"/>
<circle cx="391" cy="939" r="8"/><circle cx="391" cy="960" r="8"/><circle cx="741" cy="939" r="8"/><circle cx="741" cy="960" r="8"/>
<circle cx="1319" cy="1187" r="8"/><circle cx="1670" cy="1187" r="8"/>
<circle cx="391" cy="1543" r="8"/><circle cx="741" cy="1543" r="8"/>
<circle cx="902" cy="1727" r="8"/>
<circle cx="266" cy="1768" r="8"/><circle cx="1294" cy="1768" r="8"/><circle cx="1319" cy="1768" r="8"/><circle cx="1670" cy="1768" r="8"/>
</g>
</g>

<text class="title" x="960.5" y="1929.5" textLength="370" lengthAdjust="spacingAndGlyphs">Prototype</text>
</svg>
